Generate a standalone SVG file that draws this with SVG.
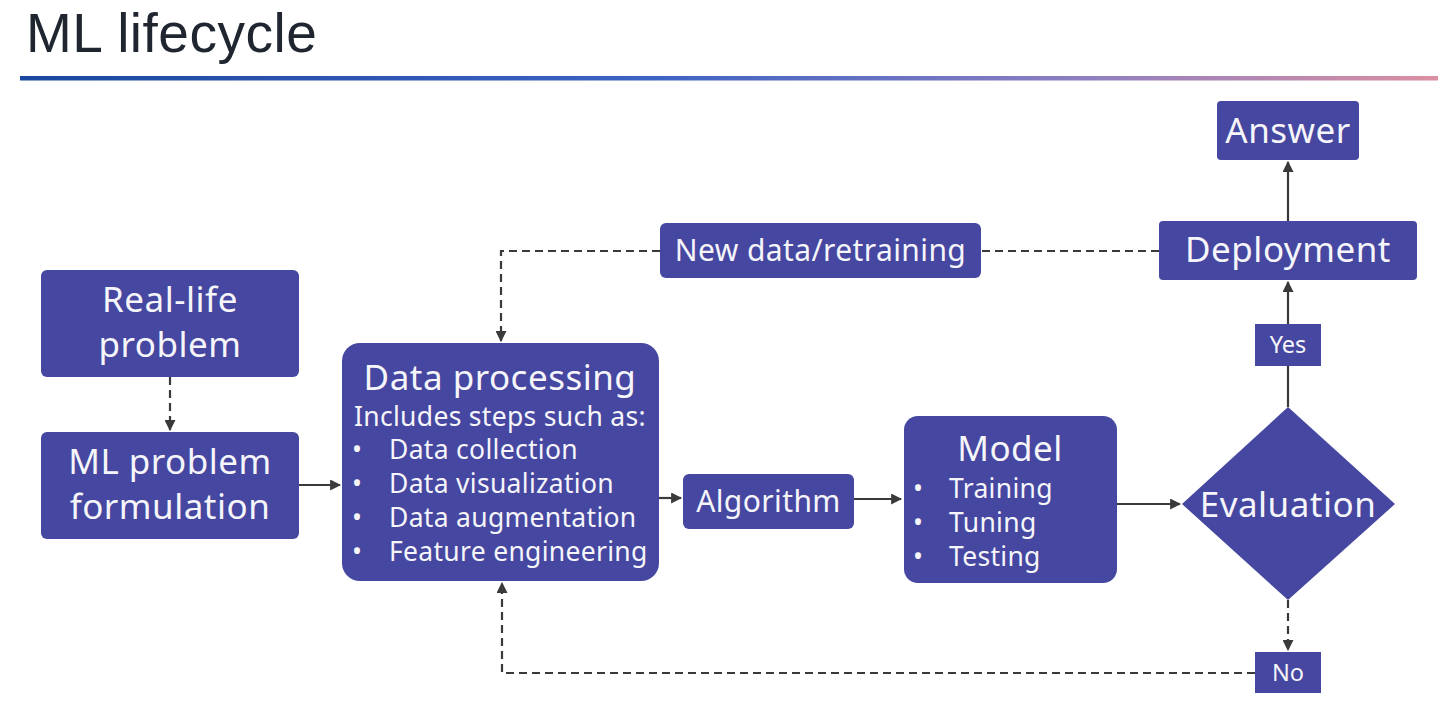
<svg xmlns="http://www.w3.org/2000/svg" width="1454" height="718" viewBox="0 0 1454 718">
<defs>
<linearGradient id="rule" x1="0" y1="0" x2="1" y2="0">
<stop offset="0" stop-color="#1a47a0"/>
<stop offset="0.45" stop-color="#3d63c4"/>
<stop offset="0.75" stop-color="#8e7fc0"/>
<stop offset="1" stop-color="#db8fa2"/>
</linearGradient>
<marker id="arr" viewBox="0 0 10 10" refX="9" refY="5" markerWidth="5" markerHeight="5" orient="auto" markerUnits="strokeWidth">
<path d="M0,0 L10,5 L0,10 z" fill="#3a3a3a"/>
</marker>
<style>
.node{fill:#4547a0;}
.t{font-family:"Noto Sans","Open Sans",sans-serif;fill:#f5f5fa;}
.big{font-size:35px;letter-spacing:0.5px;}
.mid{font-size:30px;letter-spacing:0.4px;}
.sm{font-size:26.5px;letter-spacing:0.3px;}
.xs{font-size:23.5px;}
.c{text-anchor:middle;}
.solid{fill:none;stroke:#3a3a3a;stroke-width:2.2;}
.dash{fill:none;stroke:#3a3a3a;stroke-width:2.2;stroke-dasharray:8 5;}
</style>
</defs>
<rect width="1454" height="718" fill="#ffffff"/>
<text x="26" y="52" font-family="'Liberation Sans',Arial,sans-serif" font-size="55" letter-spacing="0.5" fill="#20262f">ML lifecycle</text>
<rect x="20" y="76" width="1418" height="4.5" fill="url(#rule)"/>

<g id="connectors">
<path class="dash" d="M170,377 V430" marker-end="url(#arr)"/>
<path class="solid" d="M299,485 H340" marker-end="url(#arr)"/>
<path class="solid" d="M659,498 H681" marker-end="url(#arr)"/>
<path class="solid" d="M854,499 H901" marker-end="url(#arr)"/>
<path class="solid" d="M1117,504 H1180" marker-end="url(#arr)"/>
<path class="solid" d="M1288,407 V366"/>
<path class="solid" d="M1288,324 V282" marker-end="url(#arr)"/>
<path class="solid" d="M1288,221 V162" marker-end="url(#arr)"/>
<path class="dash" d="M1159,251 H981"/>
<path class="dash" d="M660,251 H501 V341" marker-end="url(#arr)"/>
<path class="dash" d="M1288,600 V650" marker-end="url(#arr)"/>
<path class="dash" d="M1255,673 H502 V583" marker-end="url(#arr)"/>
</g>

<g id="real-life-problem">
<rect class="node" x="41" y="270" width="258" height="107" rx="6"/>
<text class="t big c" x="170" y="312">Real-life</text>
<text class="t big c" x="170" y="357">problem</text>
</g>
<g id="ml-problem-formulation">
<rect class="node" x="41" y="432" width="258" height="107" rx="6"/>
<text class="t big c" x="170" y="474">ML problem</text>
<text class="t big c" x="170" y="519">formulation</text>
</g>
<g id="data-processing">
<rect class="node" x="342" y="343" width="317" height="238" rx="18"/>
<text class="t big c" x="500" y="390">Data processing</text>
<text class="t sm" x="354" y="426">Includes steps such as:</text>
<text class="t sm" x="352" y="459">•</text>
<text class="t sm" x="389" y="459">Data collection</text>
<text class="t sm" x="352" y="493">•</text>
<text class="t sm" x="389" y="493">Data visualization</text>
<text class="t sm" x="352" y="527">•</text>
<text class="t sm" x="389" y="527">Data augmentation</text>
<text class="t sm" x="352" y="561">•</text>
<text class="t sm" x="389" y="561">Feature engineering</text>
</g>
<g id="algorithm">
<rect class="node" x="683" y="474" width="171" height="55" rx="6"/>
<text class="t mid c" x="768.5" y="512">Algorithm</text>
</g>
<g id="model">
<rect class="node" x="904" y="416" width="213" height="167" rx="14"/>
<text class="t big c" x="1010" y="461">Model</text>
<text class="t sm" x="913" y="498">•</text>
<text class="t sm" x="949" y="498">Training</text>
<text class="t sm" x="913" y="532">•</text>
<text class="t sm" x="949" y="532">Tuning</text>
<text class="t sm" x="913" y="566">•</text>
<text class="t sm" x="949" y="566">Testing</text>
</g>
<g id="evaluation">
<polygon class="node" points="1288,407 1395,504 1288,600 1182,504"/>
<text class="t big c" x="1288" y="517">Evaluation</text>
</g>
<g id="yes">
<rect class="node" x="1255" y="324" width="66" height="42"/>
<text class="t xs c" x="1288" y="353">Yes</text>
</g>
<g id="no">
<rect class="node" x="1255" y="652" width="66" height="41"/>
<text class="t xs c" x="1288" y="681">No</text>
</g>
<g id="deployment">
<rect class="node" x="1159" y="221" width="258" height="59" rx="4"/>
<text class="t big c" x="1288" y="262">Deployment</text>
</g>
<g id="answer">
<rect class="node" x="1217" y="101" width="142" height="59" rx="4"/>
<text class="t big c" x="1288" y="143">Answer</text>
</g>
<g id="new-data-retraining">
<rect class="node" x="660" y="223" width="321" height="55" rx="6"/>
<text class="t mid c" x="820.5" y="261">New data/retraining</text>
</g>
</svg>
